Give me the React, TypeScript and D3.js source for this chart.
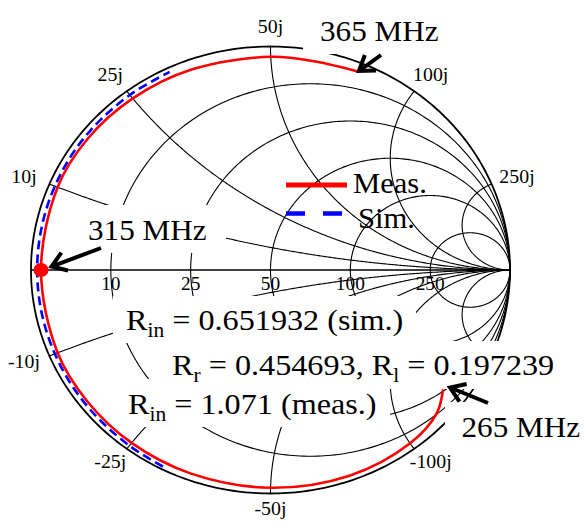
import React from "react";
import * as d3 from "d3";

// ---------------- data ----------------
const Z0 = 50; // reference impedance (ohm)
const resistanceValues = [10, 25, 50, 100, 250];
const resistanceLabels = ["10", "25", "50", "100", "250"];
const reactanceValues = [10, 25, 50, 100, 250, -10, -25, -50, -100, -250];
const reactanceLabels = ["10j", "25j", "50j", "100j", "250j", "-10j", "-25j", "-50j", "-100j", ""];

// Measured input impedance (ohm), 265 MHz -> 365 MHz
const measR = [27, 10.6, 3.8, 1.7, 1.3, 1.15, 1.05, 1.0, 0.98, 1.071, 0.98, 1.05, 1.3, 1.7, 2.35, 3.1, 3.3];
const measX = [-147, -127, -100, -71, -50, -35, -25, -17, -10, 0, 10, 17, 25, 35, 50, 61, 75];

// Simulated input impedance (ohm)
const simR = [0.44, 0.55, 0.62, 0.64, 0.65, 0.652, 0.65, 0.65, 0.65, 0.66, 0.66];
const simX = [-30.6, -25, -18, -12, -6, 0, 6, 12, 18, 25, 31.6];

const seriesNames = ["Meas.", "Sim."];
const freqLabels = ["365 MHz", "315 MHz", "265 MHz"];
const rinSim = 0.651932;
const rinMeas = 1.071;
const rR = 0.454693;
const rL = 0.197239;

// ---------------- layout ----------------
const W = 584;
const H = 525;
const SX = 1.074; // horizontal stretch of the original figure
const FONT = "'Liberation Serif', 'Times New Roman', serif";
const RED = "#ff0000";
const BLUE = "#0000ff";

const gx = d3.scaleLinear().domain([-1, 1]).range([31, 510]);
const gy = d3.scaleLinear().domain([-1, 1]).range([493.5, 46.5]);

function toGamma(R: number, X: number): [number, number] {
  const r = R / Z0;
  const x = X / Z0;
  const a = r - 1;
  const c = r + 1;
  const den = c * c + x * x;
  return [(a * c + x * x) / den, (x * c - a * x) / den];
}

const gridLine = d3
  .line<[number, number]>()
  .x((d) => gx(d[0]))
  .y((d) => gy(d[1]));

const curveLine = d3
  .line<[number, number]>()
  .x((d) => gx(d[0]))
  .y((d) => gy(d[1]))
  .curve(d3.curveCatmullRom.alpha(0.5));

function rCircle(R: number): [number, number][] {
  const r = R / Z0;
  const c = r / (1 + r);
  const rho = 1 / (1 + r);
  return d3.range(0, 361).map((i) => {
    const t = (i * Math.PI) / 180;
    return [c + rho * Math.cos(t), rho * Math.sin(t)] as [number, number];
  });
}

function xArc(X: number): [number, number][] {
  const pts = d3.range(0, 300).map((i) => toGamma(Z0 * Math.tan(((i / 300) * Math.PI) / 2), X));
  pts.push([1, 0]);
  return pts;
}

function Txt(props: { x: number; y: number; size: number; anchor?: string; children: React.ReactNode }) {
  const { x, y, size, anchor = "start", children } = props;
  return (
    <g transform={`translate(${x},${y}) scale(${SX},1)`}>
      <text
        x={0}
        y={0}
        fontFamily={FONT}
        fontSize={size}
        textAnchor={anchor}
        fill="#000"
        style={{ whiteSpace: "pre" }}
      >
        {children}
      </text>
    </g>
  );
}

function Arrow(props: { tail: [number, number]; tip: [number, number] }) {
  const { tail, tip } = props;
  const ang = Math.atan2(tail[1] - tip[1], tail[0] - tip[0]);
  const L = 17;
  const spread = (34 * Math.PI) / 180;
  const a1: [number, number] = [tip[0] + L * Math.cos(ang + spread), tip[1] + L * Math.sin(ang + spread)];
  const a2: [number, number] = [tip[0] + L * Math.cos(ang - spread), tip[1] + L * Math.sin(ang - spread)];
  return (
    <g stroke="#000" strokeWidth={4} fill="none">
      <line x1={tail[0]} y1={tail[1]} x2={tip[0] + 2 * Math.cos(ang)} y2={tip[1] + 2 * Math.sin(ang)} />
      <path d={`M${a1[0]},${a1[1]} L${tip[0]},${tip[1]} L${a2[0]},${a2[1]}`} strokeLinejoin="miter" />
    </g>
  );
}

// white text backgrounds
const boxes = [
  { x0: 303, y0: 7, x1: 455, y1: 54 },
  { x0: 76, y0: 205, x1: 226, y1: 253 },
  { x0: 445, y0: 402, x1: 584, y1: 450 },
  { x0: 113, y0: 296, x1: 416, y1: 343 },
  { x0: 157, y0: 341, x1: 566, y1: 389 },
  { x0: 115, y0: 379, x1: 390, y1: 427 },
];

export default function App() {
  const measPts = measR.map((R, i) => toGamma(R, measX[i]));
  const simPts = simR.map((R, i) => toGamma(R, simX[i]));
  const dot = toGamma(rinMeas, 0);

  return (
    <svg
      width={W}
      height={H}
      viewBox={`0 0 ${W} ${H}`}
      style={{ position: "absolute", left: 0, top: 0, background: "#fff" }}
    >
      <rect x={0} y={0} width={W} height={H} fill="#fff" />

      {/* grid */}
      <g fill="none" stroke="#000" strokeWidth={1.1}>
        {resistanceValues.map((R) => (
          <path key={"r" + R} d={gridLine(rCircle(R)) || ""} />
        ))}
        {reactanceValues.map((X) => (
          <path key={"x" + X} d={gridLine(xArc(X)) || ""} />
        ))}
      </g>
      <path d={gridLine(rCircle(0)) || ""} fill="none" stroke="#000" strokeWidth={1.8} />
      <line x1={gx(-1)} x2={gx(1)} y1={gy(0)} y2={gy(0)} stroke="#000" strokeWidth={1.7} />

      {/* resistance labels */}
      {resistanceValues.map((R, i) => {
        const g = toGamma(R, 0);
        return (
          <Txt key={"rl" + R} x={gx(g[0])} y={290} size={18} anchor="middle">
            {resistanceLabels[i]}
          </Txt>
        );
      })}

      {/* reactance labels */}
      {reactanceValues.map((X, i) => {
        if (!reactanceLabels[i]) return null;
        const g = toGamma(0, X);
        const ky = X > 0 ? 1.09 : 1.07;
        return (
          <Txt key={"xl" + X} x={gx(g[0] * 1.115)} y={gy(g[1] * ky) + 6.3} size={18.5} anchor="middle">
            {reactanceLabels[i]}
          </Txt>
        );
      })}

      {/* text backgrounds */}
      {boxes.map((b, i) => (
        <rect key={"b" + i} x={b.x0} y={b.y0} width={b.x1 - b.x0} height={b.y1 - b.y0} fill="#fff" />
      ))}

      {/* series */}
      <path d={curveLine(simPts) || ""} fill="none" stroke={BLUE} strokeWidth={2.6} strokeDasharray="9 5" />
      <path d={curveLine(measPts) || ""} fill="none" stroke={RED} strokeWidth={2.6} />
      <ellipse cx={gx(dot[0])} cy={gy(dot[1])} rx={7.5} ry={7} fill={RED} />

      {/* legend */}
      <line x1={286} x2={347} y1={185} y2={185} stroke={RED} strokeWidth={4.8} />
      <line x1={286} x2={344} y1={213.5} y2={213.5} stroke={BLUE} strokeWidth={4.6} strokeDasharray="19 18" />
      <Txt x={353} y={193.3} size={28.5}>{seriesNames[0]}</Txt>
      <Txt x={358} y={228.3} size={28.5}>{seriesNames[1]}</Txt>

      {/* frequency annotations */}
      <Txt x={320} y={40.7} size={29}>{freqLabels[0]}</Txt>
      <Txt x={88} y={240} size={29}>{freqLabels[1]}</Txt>
      <Txt x={461.5} y={436.7} size={29}>{freqLabels[2]}</Txt>
      <Arrow tail={[381, 55]} tip={[359, 71]} />
      <Arrow tail={[101, 248]} tip={[51.5, 266.5]} />
      <Arrow tail={[488, 403]} tip={[450, 387.5]} />

      {/* resistance annotations */}
      <Txt x={126} y={330} size={30}>
        R<tspan fontSize={20} dy={6.5}>in</tspan>
        <tspan dy={-6.5}>{` = ${rinSim} (sim.)`}</tspan>
      </Txt>
      <Txt x={172} y={375} size={30}>
        R<tspan fontSize={20} dy={6.5}>r</tspan>
        <tspan dy={-6.5}>{` = ${rR}, R`}</tspan>
        <tspan fontSize={20} dy={6.5}>l</tspan>
        <tspan dy={-6.5}>{` = ${rL}`}</tspan>
      </Txt>
      <Txt x={128} y={414} size={30}>
        R<tspan fontSize={20} dy={6.5}>in</tspan>
        <tspan dy={-6.5}>{` = ${rinMeas} (meas.)`}</tspan>
      </Txt>
    </svg>
  );
}
